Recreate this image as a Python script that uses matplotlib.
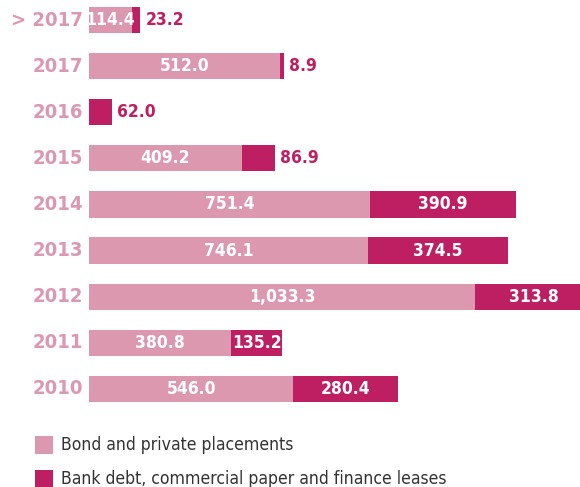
import matplotlib
matplotlib.use("Agg")
import matplotlib.pyplot as plt
from matplotlib.patches import Rectangle
from matplotlib import font_manager as fm

categories = ["> 2017", "2017", "2016", "2015", "2014", "2013", "2012", "2011", "2010"]
bond = [114.4, 512.0, 0.0, 409.2, 751.4, 746.1, 1033.3, 380.8, 546.0]
bank = [23.2, 8.9, 62.0, 86.9, 390.9, 374.5, 313.8, 135.2, 280.4]
bond_labels = ["114.4", "512.0", "", "409.2", "751.4", "746.1", "1,033.3", "380.8", "546.0"]
bank_labels = ["23.2", "8.9", "62.0", "86.9", "390.9", "374.5", "313.8", "135.2", "280.4"]
legend_labels = ["Bond and private placements", "Bank debt, commercial paper and finance leases"]

PINK = "#DC98AE"
MAG = "#BE1E62"

fonts = [f.fname for f in fm.fontManager.ttflist]
cond_b = [f for f in fonts if 'DejaVuSansCondensed-Bold.ttf' in f]
cond_r = [f for f in fonts if 'DejaVuSansCondensed.ttf' in f]
if cond_b and cond_r:
    FB = fm.FontProperties(fname=cond_b[0])
    FR = fm.FontProperties(fname=cond_r[0])
else:
    FB = fm.FontProperties(family='Roboto', weight='bold')
    FR = fm.FontProperties(family='Roboto')

W, H = 580, 487
fig = plt.figure(figsize=(W/100, H/100), dpi=100)
top_px, bot_px = 0.2, 411.9
ax = fig.add_axes([89/W, (H-bot_px)/H, 491/W, (bot_px-top_px)/H])
ax.set_xlim(0, 491/0.374)
ax.set_ylim(8.5, -0.43)
ax.axis('off')

y = list(range(len(categories)))
hgt = 0.57
ax.barh(y, bond, height=hgt, color=PINK, linewidth=0)
ax.barh(y, bank, left=bond, height=hgt, color=MAG, linewidth=0)

def fp(base, size):
    p = base.copy()
    p.set_size(size)
    return p

for i in y:
    if bond_labels[i]:
        ax.text(bond[i]/2, i, bond_labels[i], ha='center', va='center', color='white',
                fontproperties=fp(FB, 12.5), clip_on=False)
    if bank[i] > 120:
        ax.text(bond[i] + bank[i]/2, i, bank_labels[i], ha='center', va='center',
                color='white', fontproperties=fp(FB, 12.5))
    else:
        ax.text(bond[i] + bank[i] + 14, i, bank_labels[i], ha='left', va='center',
                color=MAG, fontproperties=fp(FB, 12.5))
    ax.text(-16, i, categories[i], ha='right', va='center', color=PINK,
            fontproperties=fp(FB, 14.5), clip_on=False)

# legend
for k, (lab, col) in enumerate(zip(legend_labels, [PINK, MAG])):
    ytop = 436 + k*34
    fig.patches.append(Rectangle((35/W, (H-ytop-18)/H), 18/W, 18/H, transform=fig.transFigure,
                                 color=col, linewidth=0))
    fig.text(61/W, (H-ytop-9)/H, lab, ha='left', va='center', color='#333333',
             fontproperties=fp(FR, 12.6))

fig.savefig("out.png", dpi=100)
